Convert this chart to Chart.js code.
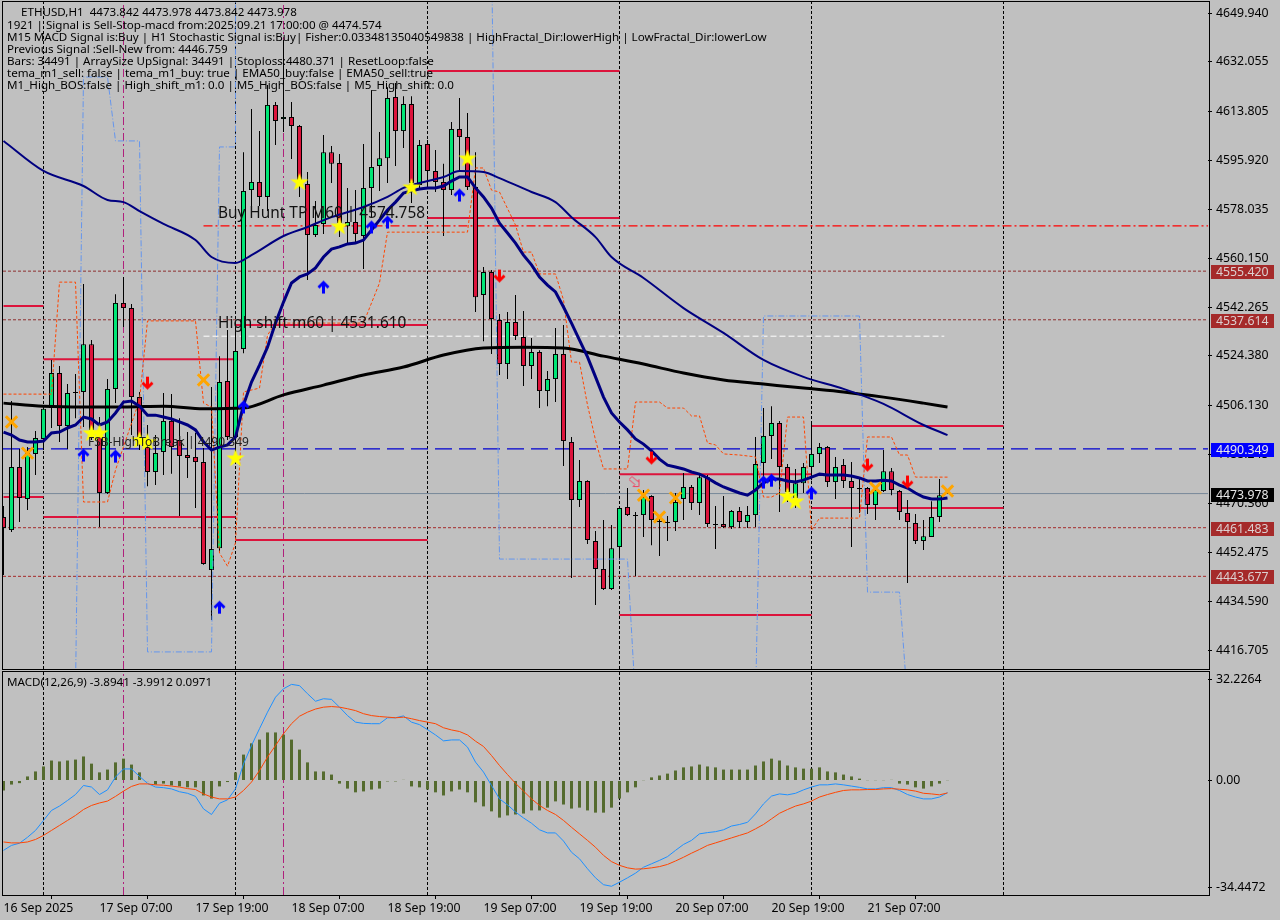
<!DOCTYPE html>
<html>
<head>
<meta charset="utf-8">
<title>ETHUSD,H1</title>
<script src="https://cdn.jsdelivr.net/npm/chart.js@4/dist/chart.umd.min.js"></script>
<style>
  html, body { margin: 0; padding: 0; background: #c0c0c0; width: 1280px; height: 920px; overflow: hidden; }
  canvas { position: absolute; left: 0; }
  #price { top: 0; }
  #macd { top: 670px; }
</style>
</head>
<body>
<canvas id="price" width="1280" height="670"></canvas>
<canvas id="macd" width="1280" height="250"></canvas>
<script>
// candles, one per hour, index 0 = 16 Sep 2025 19:00 on the left edge
const candleOpen = [
  4465.4,4460.6,4483.7,4472.0,4488.5,4494.0,4505.3,4518.1,4498.7,4511.2,
  4511.2,4528.7,4496.2,4474.2,4512.3,4543.8,4541.9,4509.3,4491.0,4481.9,
  4489.2,4500.6,4493.6,4488.1,4487.4,4485.5,4446.0,4454.0,4515.2,4494.7,
  4526.9,4585.1,4588.1,4582.6,4616.3,4611.1,4611.9,4608.6,4587.3,4568.7,
  4572.7,4599.0,4595.0,4571.9,4573.4,4568.3,4585.9,4593.9,4596.8,4619.2,
  4606.7,4616.6,4587.0,4602.0,4592.1,4588.1,4585.1,4607.5,4604.5,4586.2,
  4546.7,4555.1,4537.5,4521.4,4536.8,4531.3,4520.7,4525.8,4511.5,4515.9,
  4525.1,4492.9,4471.6,4478.6,4456.6,4446.4,4439.0,4454.4,4469.1,4466.1,
  4466.1,4473.1,4463.9,4463.6,4463.6,4472.0,4476.4,4470.5,4480.0,4462.8,
  4462.8,4461.7,4467.6,4463.6,4466.1,4485.2,4495.1,4499.8,4483.7,4472.4,
  4477.8,4483.7,4488.5,4491.0,4478.2,4484.4,4478.6,4476.0,4476.0,4469.8,
  4474.9,4482.2,4474.9,4466.9,4463.2,4456.6,4458.1,4465.4,4473.842];
const candleClose = [
  4461.4,4483.7,4472.4,4488.8,4494.3,4505.0,4518.1,4498.7,4510.8,4510.8,
  4528.7,4497.3,4474.2,4512.3,4543.8,4541.9,4509.3,4494.7,4481.9,4488.8,
  4500.6,4491.0,4487.7,4487.0,4485.5,4448.2,4453.7,4514.8,4494.7,4526.2,
  4584.8,4588.1,4582.6,4616.3,4610.4,4611.9,4608.6,4587.7,4568.7,4572.3,
  4599.0,4594.7,4573.0,4573.4,4569.0,4585.9,4593.6,4596.8,4618.8,4606.7,
  4616.6,4587.7,4601.6,4592.1,4588.1,4585.1,4607.5,4604.5,4586.2,4545.9,
  4555.1,4537.9,4521.4,4536.8,4531.7,4520.7,4525.8,4511.5,4515.9,4525.1,
  4493.2,4471.6,4478.6,4457.0,4446.4,4439.0,4454.0,4468.7,4466.1,4465.8,
  4472.7,4464.3,4463.6,4463.2,4470.9,4476.4,4470.5,4480.0,4462.8,4462.5,
  4461.7,4467.6,4463.6,4466.1,4484.8,4495.1,4499.8,4483.7,4474.6,4477.8,
  4483.7,4488.5,4491.0,4478.2,4483.7,4478.6,4476.0,4475.6,4469.8,4475.3,
  4482.2,4475.3,4467.2,4463.6,4456.6,4458.4,4465.4,4473.4,4473.978];
const candleHigh = [
  4469.4,4507.9,4490.3,4491.0,4496.9,4506.4,4522.9,4520.7,4514.1,4517.8,
  4550.7,4530.2,4502.0,4515.9,4547.0,4553.3,4543.4,4511.2,4499.1,4495.4,
  4510.8,4510.4,4501.6,4496.5,4496.2,4490.7,4513.0,4524.3,4533.9,4536.8,
  4599.0,4614.8,4606.7,4623.6,4617.4,4640.1,4617.4,4608.9,4591.7,4581.1,
  4605.3,4601.2,4598.3,4585.9,4585.1,4602.0,4621.7,4606.4,4622.8,4624.3,
  4619.5,4619.5,4603.4,4603.4,4599.8,4594.7,4610.0,4618.8,4613.3,4599.0,
  4556.9,4555.8,4539.7,4540.5,4546.7,4540.8,4530.9,4526.5,4518.9,4534.6,
  4535.7,4494.7,4486.3,4478.9,4460.3,4464.3,4462.5,4469.4,4476.0,4467.2,
  4475.3,4473.4,4465.4,4465.8,4474.2,4481.5,4477.1,4480.8,4480.8,4469.4,
  4473.1,4468.0,4469.1,4469.4,4494.7,4505.3,4506.0,4500.6,4484.8,4483.0,
  4485.2,4499.8,4492.5,4491.4,4487.4,4486.6,4485.5,4480.0,4476.4,4476.0,
  4489.9,4483.3,4475.3,4471.6,4466.5,4464.3,4471.2,4479.3,4473.978];
const candleLow = [
  4444.2,4459.9,4463.6,4468.0,4480.8,4489.9,4498.0,4492.9,4490.3,4501.6,
  4498.4,4493.6,4461.7,4473.8,4507.1,4535.0,4495.4,4489.9,4476.7,4477.1,
  4480.8,4481.2,4465.8,4479.7,4468.7,4447.9,4427.7,4452.2,4493.6,4485.5,
  4525.4,4579.3,4579.3,4577.4,4601.6,4606.4,4596.5,4582.6,4552.2,4567.9,
  4569.0,4587.7,4567.9,4565.7,4566.1,4556.2,4575.2,4584.8,4587.7,4593.9,
  4600.5,4580.4,4585.1,4585.9,4584.4,4568.3,4583.3,4592.5,4585.1,4540.5,
  4529.8,4525.1,4517.4,4515.9,4530.2,4513.4,4515.9,4505.3,4506.0,4507.5,
  4484.1,4443.1,4469.1,4455.5,4433.2,4438.7,4438.7,4449.7,4465.8,4443.8,
  4458.1,4455.1,4451.1,4456.6,4460.3,4464.3,4468.0,4466.1,4461.7,4453.7,
  4461.4,4461.0,4461.4,4461.4,4461.7,4478.9,4486.6,4467.2,4470.9,4468.7,
  4474.2,4478.9,4485.2,4476.4,4472.0,4476.0,4454.4,4466.9,4466.5,4464.3,
  4474.6,4473.4,4464.3,4441.2,4455.5,4453.3,4458.1,4463.6,4473.842];

// moving averages
const fastMa = [
  4496.5,4495.4,4493.6,4492.9,4492.9,4493.2,4496.2,4496.5,4498.0,4499.1,
  4502.0,4501.3,4499.1,4500.2,4503.5,4507.5,4507.9,4506.0,4502.7,4502.7,
  4502.0,4501.3,4500.2,4499.1,4497.3,4492.9,4489.9,4491.0,4491.8,4494.7,
  4506.4,4514.8,4521.0,4527.6,4536.4,4544.1,4551.1,4553.3,4554.4,4556.6,
  4560.6,4563.5,4564.3,4565.4,4565.7,4566.8,4570.5,4574.1,4577.8,4580.7,
  4584.0,4584.8,4585.5,4585.9,4585.9,4586.6,4588.4,4589.9,4589.9,4585.9,
  4582.6,4578.5,4573.0,4569.4,4565.7,4561.3,4557.7,4553.3,4550.3,4547.8,
  4542.3,4536.4,4530.2,4524.0,4516.7,4509.3,4503.5,4500.2,4497.3,4494.0,
  4492.1,4489.6,4486.6,4484.4,4483.7,4483.0,4481.9,4481.1,4479.7,4477.9,
  4476.4,4475.3,4474.2,4473.4,4475.3,4477.9,4479.3,4479.3,4478.6,4478.2,
  4478.9,4480.0,4481.1,4480.8,4480.8,4480.8,4480.4,4479.7,4478.6,4478.6,
  4478.9,4478.6,4477.1,4476.0,4474.2,4472.7,4472.0,4472.0,4472.4];
const midIdx = [0,5,10,13,15,17,20,24,26,29,31,35,38,41,45,48,50,52,55,57,60,62,66,69,71,74,76,80,85,90,95,100,105,110,115,118];
const midMa = [4603.1,4592.1,4586.6,4581.5,4580.7,4577.4,4572.7,4566.8,4560.6,4558.4,4561.3,4568.3,4571.6,4575.2,4578.9,4582.6,
  4585.9,4587.7,4589.9,4592.1,4591.7,4589.5,4584.4,4580.7,4575.2,4567.9,4560.6,4552.9,4541.9,4532.8,4522.9,4516.7,4512.3,4506.8,4499.1,4495.4];
const slowIdx = [0,5,10,15,20,25,30,35,40,45,50,55,60,65,70,75,80,85,90,95,100,105,110,115,118];
const slowMa = [4507.1,4506.0,4505.7,4505.7,4506.0,4505.0,4505.3,4510.1,4513.7,4517.4,4520.3,4524.7,
  4527.3,4527.6,4527.3,4524.3,4521.4,4518.1,4515.6,4514.1,4512.6,4511.2,4509.3,4507.1,4505.7];

// stepped bands
const orangeIdx = [0,6,7,9,10,13,14,17,18,24,25,26,27,28,29,30,32,33,34,45,47,48,58,59,60,61,62,64,65,66,67,69,70,71,72,73,74,75,78,79,82,83,85,86,87,88,89,90,92,94,95,96,97,98,100,101,102,107,108,111,112,113,114,118];
const orangeBand = [4510.4,4510.4,4551.4,4551.4,4470.9,4470.9,4482.6,4508.2,4537.2,4537.2,4507.1,4505.7,4452.2,4447.4,4455.9,4511.2,4512.6,4532.0,4536.4,4536.4,4551.1,4569.7,4569.7,4593.2,4593.2,4585.1,4584.4,4572.3,4562.4,4562.4,4554.4,4554.4,4544.9,4522.1,4522.1,4506.4,4493.6,4483.0,4483.0,4507.5,4507.5,4505.3,4505.3,4502.4,4502.4,4492.5,4491.8,4488.5,4488.1,4487.4,4472.7,4472.7,4474.2,4502.0,4502.0,4460.6,4465.0,4465.0,4494.7,4494.7,4488.1,4488.1,4480.0,4480.0];
const blueIdx = [9,10,13,14,17,18,26,27,29,29,61,62,78,79,94,95,107,108,112,113];
const blueBand = [4402.0,4626.5,4626.5,4603.1,4603.1,4416.0,4416.0,4600.9,4600.9,4673.0,4673.0,4450.0,4450.0,4398.0,4398.0,4539.0,4539.0,4437.9,4437.9,4398.0];

// crimson segments
const segStart = [0,5,0,5,29,29,53,53,77,77,101,101];
const segEnd = [5,29,5,29,53,53,77,77,101,101,125,125];
const segPrice = [4542.7,4523.2,4472.7,4465.4,4457.0,4535.7,4628.7,4574.9,4481.1,4429.5,4498.7,4468.7];

// horizontal levels
const brownLevels = [4555.420,4537.614,4461.483,4443.677];
const blueLevel = 4490.349;
const bidLevel = 4473.978;
const tpLevel = 4572.0;
const shiftLevel = 4531.610;
const blackVLines = [5,29,53,77,101,125];
const magentaVLines = [15,35];

// markers
const upIdx = [10,14,27,30,40,46,48,57,95,96,101];
const upPrice = [4488.1,4487.7,4432.4,4505.7,4549.6,4571.6,4573.4,4583.3,4478.2,4478.9,4474.2];
const downIdx = [18,62,81,108,113];
const downPrice = [4514.4,4553.6,4487.0,4484.4,4478.2];
const starIdx = [11,12,17,18,29,37,42,51,58,98,99];
const starPrice = [4496.2,4496.2,4493.6,4492.9,4487.0,4588.1,4571.9,4586.2,4596.8,4473.1,4471.2];
const crossIdx = [1,3,25,80,82,84,109,118];
const crossPrice = [4500.2,4488.8,4515.6,4473.4,4465.4,4472.4,4476.0,4474.9];
const hollowIdx = [79];
const hollowPrice = [4478.2];

// macd panel
const macdHist = [
  -3.2,-1.3,-0.85,1.3,2.9,4.5,6.4,6.1,6.4,6.7,7.7,5.4,2.6,3.5,5.8,7.0,5.1,2.6,-0.2,-1.3,
  -1.0,-1.6,-1.9,-2.2,-2.2,-4.8,-5.8,-1.9,-0.5,2.6,8.3,11.9,13.1,15.4,15.4,14.7,13.1,9.9,5.8,2.9,
  2.9,1.9,-1.0,-2.6,-3.8,-3.5,-2.9,-2.6,-0.3,-0.3,0.2,-1.9,-2.2,-2.9,-3.8,-4.8,-3.5,-2.9,-3.8,-7.0,
  -8.3,-9.9,-11.9,-11.2,-10.9,-10.6,-9.6,-9.6,-8.7,-6.7,-7.7,-9.0,-8.7,-9.6,-10.3,-10.3,-8.7,-5.8,-3.8,-2.2,
  -0.1,1.0,1.6,2.2,3.2,4.2,4.5,5.1,4.5,4.2,3.5,3.5,3.5,3.5,4.8,6.1,7.0,6.4,4.8,4.2,
  3.8,3.8,4.2,2.9,2.6,1.9,1.3,0.6,0.1,0.1,0.1,0.2,-1.0,-1.3,-2.2,-2.6,-1.9,-1.0,0.0971];
const macdLine = [
  -22.4,-20.8,-20.1,-18.2,-16.0,-12.8,-9.6,-8.2,-6.4,-4.5,-1.6,-2.1,-4.5,-3.0,1.1,3.7,3.7,1.3,-0.9,-2.1,
  -2.3,-2.7,-3.6,-4.1,-5.1,-9.1,-10.9,-7.3,-6.2,-2.7,5.3,11.2,16.6,21.9,26.7,29.4,30.8,30.4,27.8,25.4,
  26.2,26.0,23.5,20.8,18.7,18.3,18.2,18.2,20.1,20.1,20.7,18.7,17.9,16.3,14.6,12.7,13.0,13.0,10.7,5.9,
  2.7,-1.6,-5.9,-7.8,-10.1,-12.0,-13.7,-15.8,-16.8,-16.8,-19.4,-23.0,-25.1,-28.3,-31.2,-33.4,-33.9,-32.6,-31.2,-29.7,
  -27.8,-26.7,-25.6,-24.4,-22.4,-20.5,-19.2,-17.1,-16.7,-16.4,-15.8,-14.6,-14.1,-13.4,-10.7,-7.5,-5.0,-4.3,-4.6,-4.1,
  -3.0,-2.1,-1.4,-1.4,-1.1,-1.4,-1.8,-2.2,-2.7,-2.7,-2.3,-2.3,-3.2,-4.5,-5.3,-5.9,-5.9,-5.3,-3.8941];
const macdSignal = [
  -19.7,-20.0,-20.0,-19.7,-18.9,-17.6,-16.0,-14.4,-12.8,-11.2,-9.3,-8.0,-7.2,-6.6,-5.1,-3.4,-1.9,-1.1,-1.1,-1.4,
  -1.5,-1.8,-2.1,-2.6,-2.9,-4.3,-5.3,-5.9,-5.9,-5.3,-3.2,-0.5,3.2,7.5,11.2,15.0,18.2,20.6,21.9,22.9,
  23.5,23.7,23.5,23.0,22.4,21.4,20.8,20.5,20.3,20.1,20.3,19.8,19.2,18.7,18.2,16.9,16.2,15.7,14.6,12.6,
  10.9,8.0,4.8,1.9,-0.9,-3.4,-5.9,-8.0,-9.6,-10.9,-12.8,-15.0,-17.1,-19.2,-21.4,-24.0,-26.0,-27.2,-28.0,-28.4,
  -28.3,-28.0,-27.6,-26.9,-25.8,-24.6,-23.3,-22.1,-20.8,-20.0,-19.2,-18.4,-17.6,-16.8,-15.5,-14.1,-12.3,-10.5,-9.3,-8.2,
  -7.5,-6.6,-5.3,-4.5,-3.8,-3.2,-3.0,-3.0,-2.9,-2.9,-2.7,-2.6,-2.8,-3.0,-3.4,-4.1,-4.3,-4.6,-3.9912];

// axes
const priceTicks = [4649.940,4632.055,4613.805,4595.920,4578.035,4560.150,4542.265,4524.380,4506.130,4488.245,4470.360,4452.475,4434.590,4416.705];
const macdTicks = [32.2264,0,-34.4472];
const macdTickLabels = ["32.2264","0.00","-34.4472"];
const timeTickIdx = [0,12,24,36,48,60,72,84,96,108];
const timeLabels = ["16 Sep 2025","17 Sep 07:00","17 Sep 19:00","18 Sep 07:00","18 Sep 19:00","19 Sep 07:00","19 Sep 19:00","20 Sep 07:00","20 Sep 19:00","21 Sep 07:00"];

const commentLines = [
  "1921 | Signal is Sell-Stop-macd from:2025.09.21 17:00:00 @ 4474.574",
  "M15 MACD Signal is:Buy | H1 Stochastic Signal is:Buy| Fisher:0.03348135040549838 | HighFractal_Dir:lowerHigh | LowFractal_Dir:lowerLow",
  "Previous Signal :Sell-New from: 4446.759",
  "Bars: 34491 | ArraySize UpSignal: 34491 | Stoploss:4480.371 | ResetLoop:false",
  "tema_m1_sell: false | tema_m1_buy: true | EMA50_buy:false | EMA50_sell:true",
  "M1_High_BOS:false | High_shift_m1: 0.0 | M5_High_BOS:false | M5_High_shift: 0.0"
];

const FONT = '"Noto Sans", sans-serif';
const X_MIN = -0.0625, X_MAX = 150.5625;
const P_MIN = 4409.75, P_MAX = 4653.97;
const M_MIN = -36.7, M_MAX = 34.77;

function pts(idx, vals) { return idx.map((x, i) => ({ x, y: vals[i] })); }
function seq(vals) { return vals.map((y, x) => ({ x, y })); }

function lineSet(data, color, width, dash, order, extra) {
  return Object.assign({ type: "line", data, borderColor: color, borderWidth: width, borderDash: dash || [],
    pointRadius: 0, fill: false, order, tension: 0, spanGaps: true }, extra || {});
}
function markerSet(data, style, order, extra) {
  return Object.assign({ type: "line", data, showLine: false, pointStyle: style, pointRadius: 8,
    pointHoverRadius: 8, order }, extra || {});
}

// point glyphs, MT arrows and star
function glyph(w, h, draw) {
  const c = document.createElement("canvas");
  c.width = w; c.height = h;
  draw(c.getContext("2d"));
  return c;
}
function arrowGlyph(color, dir) {
  return glyph(13, 15, (g) => {
    if (dir < 0) { g.translate(0, 15); g.scale(1, -1); }
    g.strokeStyle = color; g.lineWidth = 3; g.lineJoin = "miter";
    g.beginPath(); g.moveTo(6.5, 14); g.lineTo(6.5, 3); g.stroke();
    g.beginPath(); g.moveTo(1.5, 8); g.lineTo(6.5, 3); g.lineTo(11.5, 8); g.stroke();
  });
}
const starGlyph = glyph(20, 20, (g) => {
  g.fillStyle = "#ffff00";
  g.beginPath();
  for (let i = 0; i < 10; i++) {
    const r = i % 2 ? 3.7 : 9.5, a = -Math.PI / 2 + i * Math.PI / 5;
    g.lineTo(10 + r * Math.cos(a), 10.5 + r * Math.sin(a));
  }
  g.closePath(); g.fill();
});
const hollowGlyph = glyph(14, 12, (g) => {
  g.strokeStyle = "#f0405e"; g.lineWidth = 1;
  g.beginPath();
  g.moveTo(3.5, 0.5); g.lineTo(9.5, 5.5); g.lineTo(10.5, 3.5); g.lineTo(10.5, 10.5);
  g.lineTo(4.5, 10.5); g.lineTo(6.5, 8.5); g.lineTo(0.5, 3.5); g.closePath(); g.stroke();
});

const framePlugin = {
  id: "frame",
  afterDraw(chart) {
    const { ctx, chartArea: a } = chart;
    ctx.save();
    ctx.strokeStyle = "#000";
    ctx.lineWidth = 1;
    ctx.strokeRect(a.left - 0.5, a.top - 0.5, a.right - a.left + 2, a.bottom - a.top + 1);
    ctx.restore();
  }
};

const pricePlugin = {
  id: "priceText",
  afterDatasetsDraw(chart) {
    const { ctx } = chart;
    ctx.save();
    ctx.textBaseline = "middle";
    ctx.fillStyle = "#111";
    ctx.font = "15.4px " + FONT;
    ctx.fillText("Buy Hunt TP M60 | 4574.758", 218, 214);
    ctx.fillText("High shift m60 | 4531.610", 218, 324);
    ctx.font = "12px " + FONT;
    ctx.fillStyle = "#222";
    ctx.fillText("FSB-HighToBreak | 4490.349", 88, 443);
    ctx.fillStyle = "#000";
    ctx.font = "11.6px " + FONT;
    ctx.fillText("ETHUSD,H1  4473.842 4473.978 4473.842 4473.978", 21, 12.5);
    commentLines.forEach((t, i) => ctx.fillText(t, 7, 25.5 + i * 12));
    ctx.restore();
  },
  afterDraw(chart) {
    const { ctx, scales } = chart;
    const tag = (p, bg, fg) => {
      const y = Math.round(scales.y.getPixelForValue(p)) + 1;
      ctx.fillStyle = bg;
      ctx.fillRect(1211, y - 7, 63, 14);
      ctx.fillStyle = fg;
      ctx.fillText(p.toFixed(3), 1216, y);
    };
    ctx.save();
    ctx.textBaseline = "middle";
    ctx.font = "12.3px " + FONT;
    brownLevels.forEach((p) => tag(p, "#a52a2a", "#dcd0d0"));
    tag(blueLevel, "#0000ff", "#e8e8e8");
    tag(bidLevel, "#000000", "#e8e8e8");
    ctx.restore();
  }
};

const macdPlugin = {
  id: "macdText",
  afterDatasetsDraw(chart) {
    const { ctx } = chart;
    ctx.save();
    ctx.textBaseline = "middle";
    ctx.fillStyle = "#000";
    ctx.font = "11.6px " + FONT;
    ctx.fillText("MACD(12,26,9) -3.8941 -3.9912 0.0971", 7, 12.5);
    ctx.restore();
  }
};

function baseOptions(yMin, yMax, ticks, label, padding) {
  return {
    responsive: false,
    animation: false,
    devicePixelRatio: 1,
    layout: { padding, autoPadding: false },
    plugins: { legend: { display: false }, tooltip: { enabled: false } },
    events: [],
    scales: {
      x: { type: "linear", min: X_MIN, max: X_MAX, display: false, offset: false, grid: { display: false } },
      y: {
        position: "right", min: yMin, max: yMax,
        afterBuildTicks: (s) => { s.ticks = ticks.map((value) => ({ value })); },
        afterFit: (s) => { s.width = 72; s.paddingTop = 0; s.paddingBottom = 0; },
        grid: { drawOnChartArea: false, drawTicks: true, tickLength: 4, color: "#000" },
        border: { display: false },
        ticks: { color: "#000", padding: 4, autoSkip: false, font: { family: FONT, size: 12.3 }, callback: label }
      }
    }
  };
}

const priceDatasets = [
  markerSet(pts(starIdx, starPrice), starGlyph, 1),
  markerSet(pts(upIdx, upPrice), arrowGlyph("#0000ff", 1), 1),
  markerSet(pts(downIdx, downPrice), arrowGlyph("#ff0000", -1), 1),
  markerSet(pts(hollowIdx, hollowPrice), hollowGlyph, 1),
  markerSet(pts(crossIdx, crossPrice), "crossRot", 0, { pointRadius: 8, pointBorderColor: "#ffa500", pointBorderWidth: 3 }),
  lineSet(seq(fastMa), "#000080", 3, null, 2),
  lineSet(pts(midIdx, midMa), "#000080", 2, null, 3, { cubicInterpolationMode: "monotone" }),
  lineSet(pts(slowIdx, slowMa), "#000000", 3, null, 3, { cubicInterpolationMode: "monotone" }),
  lineSet(pts(orangeIdx, orangeBand), "#ff4500", 1, [3, 2], 4),
  lineSet(pts(blueIdx, blueBand), "#6495ed", 1, [6, 2, 1, 2], 4),
  {
    type: "bar", order: 5, grouped: false, barThickness: 5,
    data: candleOpen.map((o, x) => ({ x, y: [o, candleClose[x]] })),
    backgroundColor: candleOpen.map((o, i) => (candleClose[i] >= o ? "#00e676" : "#dc143c")),
    borderColor: "#000", borderWidth: 1, borderSkipped: false, inflateAmount: 0
  },
  {
    type: "bar", order: 6, grouped: false, barThickness: 1,
    data: candleLow.map((l, x) => ({ x, y: [l, candleHigh[x]] })),
    backgroundColor: "#000", borderWidth: 0, inflateAmount: 0
  }
];
segPrice.forEach((p, i) => {
  priceDatasets.push(lineSet([{ x: segStart[i], y: p }, { x: segEnd[i], y: p }], "#dc143c", 2, null, 7));
});
brownLevels.forEach((p, i) => {
  priceDatasets.push(lineSet([{ x: X_MIN, y: p }, { x: X_MAX, y: p }], i < 2 ? "#8e3030" : "#a52a2a", 1, [3, 2], 8));
});
priceDatasets.push(lineSet([{ x: X_MIN, y: blueLevel }, { x: X_MAX, y: blueLevel }], "#0000d0", 1.2, [17, 7], 8));
priceDatasets.push(lineSet([{ x: X_MIN, y: bidLevel }, { x: X_MAX, y: bidLevel }], "#778899", 1, null, 8));
priceDatasets.push(lineSet([{ x: 25, y: tpLevel }, { x: X_MAX, y: tpLevel }], "#ff0000", 1.3, [9, 3, 2, 3], 8));
priceDatasets.push(lineSet([{ x: 25, y: shiftLevel }, { x: 117.6, y: shiftLevel }], "#ffffff", 1, [6, 3], 8));

function vLines(target, yMin, yMax) {
  blackVLines.forEach((x) => {
    target.push(lineSet([{ x, y: yMin }, { x, y: yMax }], "#000000", 1, [3, 2], 9));
  });
  magentaVLines.forEach((x) => {
    target.push(lineSet([{ x, y: yMin }, { x, y: yMax }], "#b0207c", 1, [8, 3, 2, 3], 9));
  });
}
vLines(priceDatasets, P_MIN, P_MAX);

new Chart(document.getElementById("price"), {
  type: "bar",
  data: { datasets: priceDatasets },
  options: baseOptions(P_MIN, P_MAX, priceTicks, (v) => Number(v).toFixed(3), { left: 3, right: 0, top: 2, bottom: 1 }),
  plugins: [pricePlugin, framePlugin]
});

const macdDatasets = [
  lineSet(seq(macdSignal), "#ff4500", 1, null, 1),
  lineSet(seq(macdLine), "#1e90ff", 1, null, 2),
  { type: "bar", order: 3, grouped: false, barThickness: 3, backgroundColor: "#556b2f", borderWidth: 0, inflateAmount: 0, data: seq(macdHist) }
];
vLines(macdDatasets, M_MIN, M_MAX);

const macdOptions = baseOptions(M_MIN, M_MAX, macdTicks, (v, i) => macdTickLabels[i], { left: 3, right: 0, top: 2, bottom: 0 });
macdOptions.scales.x = {
  type: "linear", min: X_MIN, max: X_MAX, offset: false,
  afterBuildTicks: (s) => { s.ticks = timeTickIdx.map((value) => ({ value })); },
  afterFit: (s) => { s.height = 25; },
  grid: { drawOnChartArea: false, drawTicks: true, tickLength: 4, color: "#000" },
  border: { display: false },
  ticks: { color: "#000", padding: 2, align: "start", maxRotation: 0, minRotation: 0, autoSkip: false,
    font: { family: FONT, size: 12.3 }, callback: (v, i) => timeLabels[i] }
};
new Chart(document.getElementById("macd"), {
  type: "bar",
  data: { datasets: macdDatasets },
  options: macdOptions,
  plugins: [macdPlugin, framePlugin]
});
</script>
</body>
</html>
